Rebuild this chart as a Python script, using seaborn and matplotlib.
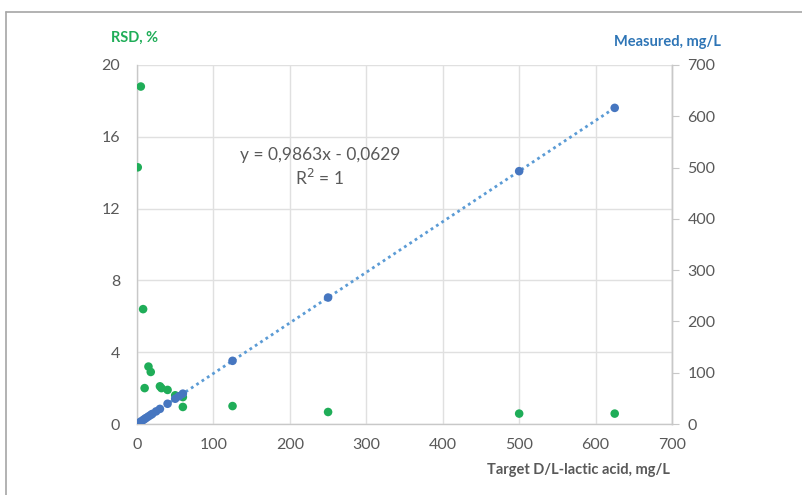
import numpy as np
import pandas as pd
import matplotlib
matplotlib.use('Agg')
import matplotlib.pyplot as plt
from matplotlib.lines import Line2D
import seaborn as sns

# Measured concentration vs target (right axis)
target = [1, 2, 5, 8, 10, 12, 15, 18, 20, 25, 30, 40, 50, 55, 60, 125, 250, 500, 625]
measured = [0.9, 1.9, 4.9, 7.8, 9.8, 11.9, 14.8, 17.7, 19.7, 24.6, 29.5, 39.5,
            49.3, 54.2, 59.2, 123.2, 246.6, 493.0, 616.4]

# RSD vs target (left axis)
rsd_target = [1, 5, 8, 10, 15, 18, 30, 32, 40, 50, 60, 60, 125, 250, 500, 625]
rsd = [14.3, 18.8, 6.4, 2.0, 3.2, 2.9, 2.1, 2.0, 1.9, 1.6, 1.5, 0.95,
       1.0, 0.67, 0.58, 0.58]

df_meas = pd.DataFrame({'Target': target, 'Measured': measured})
df_rsd = pd.DataFrame({'Target': rsd_target, 'RSD': rsd})

sns.set_style('white')
plt.rcParams['font.family'] = ['Lato', 'DejaVu Sans']

verde = '#1fad58'
azul = '#4676c0'
cinza = '#595959'

fig = plt.figure(figsize=(8.03, 4.95), dpi=100)
ax = fig.add_axes([0.1706, 0.1434, 0.8369 - 0.1706, 0.8687 - 0.1434])
ax2 = ax.twinx()

sns.scatterplot(x='Target', y='RSD', data=df_rsd, ax=ax, color=verde, s=38,
                edgecolor='none', zorder=3)

sns.regplot(x='Target', y='Measured', data=df_meas, ax=ax2, scatter=False, ci=None,
            color='#5b9bd5', line_kws={'linestyle': (0, (1, 1.3)), 'linewidth': 2})
sns.scatterplot(x='Target', y='Measured', data=df_meas, ax=ax2, color=azul, s=38,
                edgecolor='none', zorder=4)

ax.set_xlim(0, 700)
ax.set_ylim(0, 20)
ax2.set_ylim(0, 700)
ax.set_xticks(np.arange(0, 701, 100))
ax.set_yticks(np.arange(0, 21, 4))
ax2.set_yticks(np.arange(0, 701, 100))

ax.grid(True, color='#e0e0e0', linewidth=1)
ax.set_axisbelow(True)

for a in (ax, ax2):
    a.set_xlabel('')
    a.set_ylabel('')
    a.spines['top'].set_visible(False)
    for s in ('left', 'bottom', 'right'):
        a.spines[s].set_color('#c8c8c8')
        a.spines[s].set_linewidth(1)
ax2.spines['left'].set_visible(False)
ax2.spines['bottom'].set_visible(False)

ax.tick_params(axis='both', length=0, labelsize=11.5, labelcolor=cinza)
ax.tick_params(axis='y', pad=12)
ax.tick_params(axis='x', pad=10)
ax2.tick_params(axis='y', length=5, color='#c8c8c8', direction='out',
                labelsize=11.5, labelcolor=cinza, pad=6)

ax.text(0.342, 0.715, 'y = 0,9863x - 0,0629\nR$^2$ = 1', transform=ax.transAxes,
        ha='center', va='center', fontsize=12.5, color=cinza, linespacing=1.3)

fig.text(135 / 803, 1 - 38 / 495, 'RSD, %', color=verde, fontsize=10.5,
         fontweight='bold', ha='center', va='center')
fig.text(721 / 803, 1 - 42 / 495, 'Measured, mg/L', color='#2e75b6', fontsize=10.5,
         fontweight='bold', ha='right', va='center')
fig.text(670 / 803, 1 - 470 / 495, 'Target D/L-lactic acid, mg/L', color=cinza,
         fontsize=10.5, fontweight='bold', ha='right', va='center')

# moldura
fig.add_artist(Line2D([6 / 803, 6 / 803], [0, 1 - 12 / 495], transform=fig.transFigure,
                      color='#a6a6a6', linewidth=1.2))
fig.add_artist(Line2D([6 / 803, 1], [1 - 12 / 495, 1 - 12 / 495], transform=fig.transFigure,
                      color='#a6a6a6', linewidth=1.2))

fig.savefig('out.png', dpi=100)
